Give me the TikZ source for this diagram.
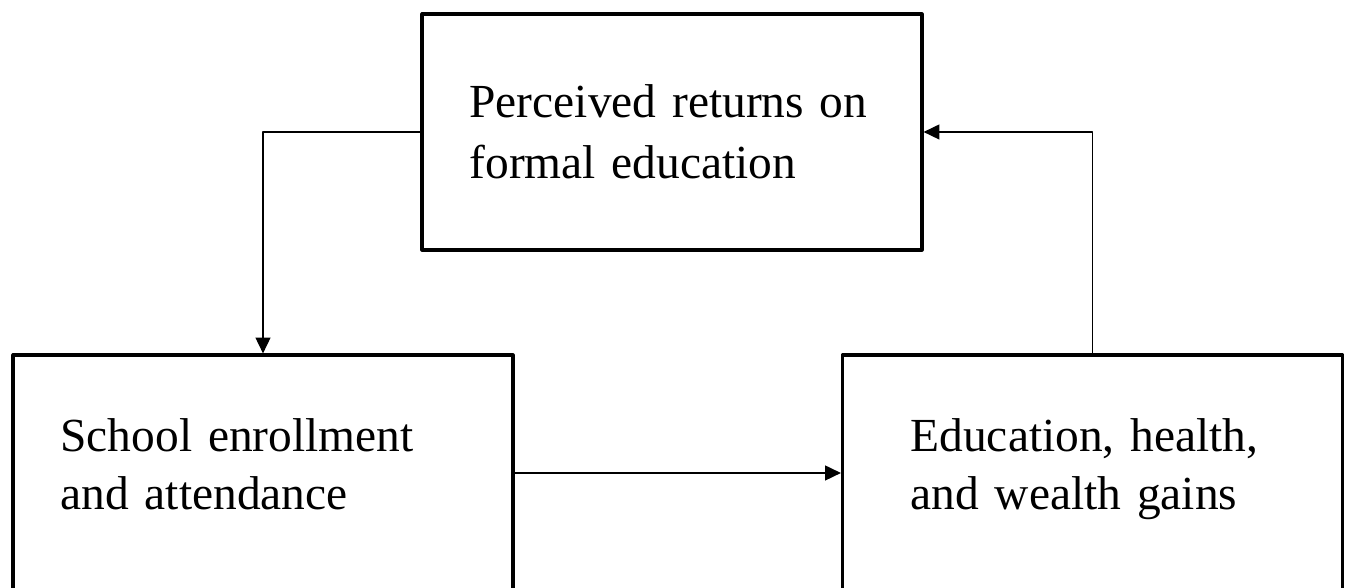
\documentclass[tikz,border=0pt]{standalone}
\usepackage{fontspec}
\setmainfont{Liberation Serif}
\usetikzlibrary{arrows.meta}
\begin{document}
\begin{tikzpicture}[line join = round, >={Triangle[length=9pt,width=8.5pt]},font=\fontsize{27}{33}\selectfont]
			% Parameters
			\def\bw{10} % box width
			\def\bh{4.72} % box height
			\tikzset{hop/.style={draw, line width=1.8pt, minimum width=\bw cm, minimum height=\bh cm, text width=8.1cm, inner xsep=0.95cm, align=left},
				link/.style={->, line width=0.8pt}}
			\useasboundingbox (0,0) rectangle (26.92,11.76);
			
			% Top box
			\node[hop, font=\fontsize{27}{34.5}\selectfont] (returns) at (13.44,9.12) {Perceived returns on\\formal education};
			% Bottom left box
			\node[hop] (enroll) at (5.26,2.30) {School enrollment\\and attendance\strut};
			% Bottom right box
			\node[hop, text width=7.28cm, inner xsep=1.36cm] (gains) at (21.85,2.30) {Education, health,\\and wealth gains\strut};
			
			% Arrows
			\draw[link] (returns.west) -| (enroll.north);
			\draw[link] (enroll.east) -- (gains.west);
			\draw[link] (gains.north) |- (returns.east);
\end{tikzpicture}
\end{document}
